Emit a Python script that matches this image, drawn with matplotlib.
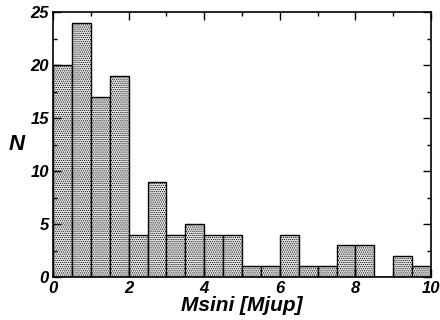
import numpy as np
import matplotlib.pyplot as plt
from matplotlib.ticker import MultipleLocator

plt.rcParams['font.family'] = 'Liberation Sans'
plt.rcParams['hatch.color'] = '#8a8a8a'
plt.rcParams['hatch.linewidth'] = 0.5

edges = np.arange(0, 10.01, 0.5)
counts = [20, 24, 17, 19, 4, 9, 4, 5, 4, 4, 1, 1, 4, 1, 1, 3, 3, 0, 2, 1]

fig = plt.figure(figsize=(4.4, 3.2), dpi=100)
ax = fig.add_axes([53/440, 1 - 277/320, 378/440, 265/320])

ax.bar(edges[:-1], counts, width=0.5, align='edge', facecolor='#e2e2e2',
       edgecolor='black', linewidth=1.0, hatch='........')

ax.set_xlim(0, 10)
ax.set_ylim(0, 25)
ax.xaxis.set_major_locator(MultipleLocator(2))
ax.xaxis.set_minor_locator(MultipleLocator(1))
ax.yaxis.set_major_locator(MultipleLocator(5))
ax.yaxis.set_minor_locator(MultipleLocator(2.5))
ax.tick_params(which='both', direction='in', top=True, right=True, width=1.0)
ax.tick_params(which='major', length=6, labelsize=12, pad=3)
ax.tick_params(which='minor', length=3)
for lab in ax.get_xticklabels() + ax.get_yticklabels():
    lab.set_fontweight('bold')
    lab.set_fontstyle('italic')
for sp in ax.spines.values():
    sp.set_linewidth(1.2)

ax.set_xlabel('Msini [Mjup]', fontsize=15, fontweight='bold', fontstyle='italic')
ax.set_ylabel('N', fontsize=16, fontweight='bold', fontstyle='italic', rotation=0, va='center')
ax.xaxis.set_label_coords(0.5, -0.07)
ax.yaxis.set_label_coords(-0.095, 0.5)

fig.savefig('out.png', dpi=100)
